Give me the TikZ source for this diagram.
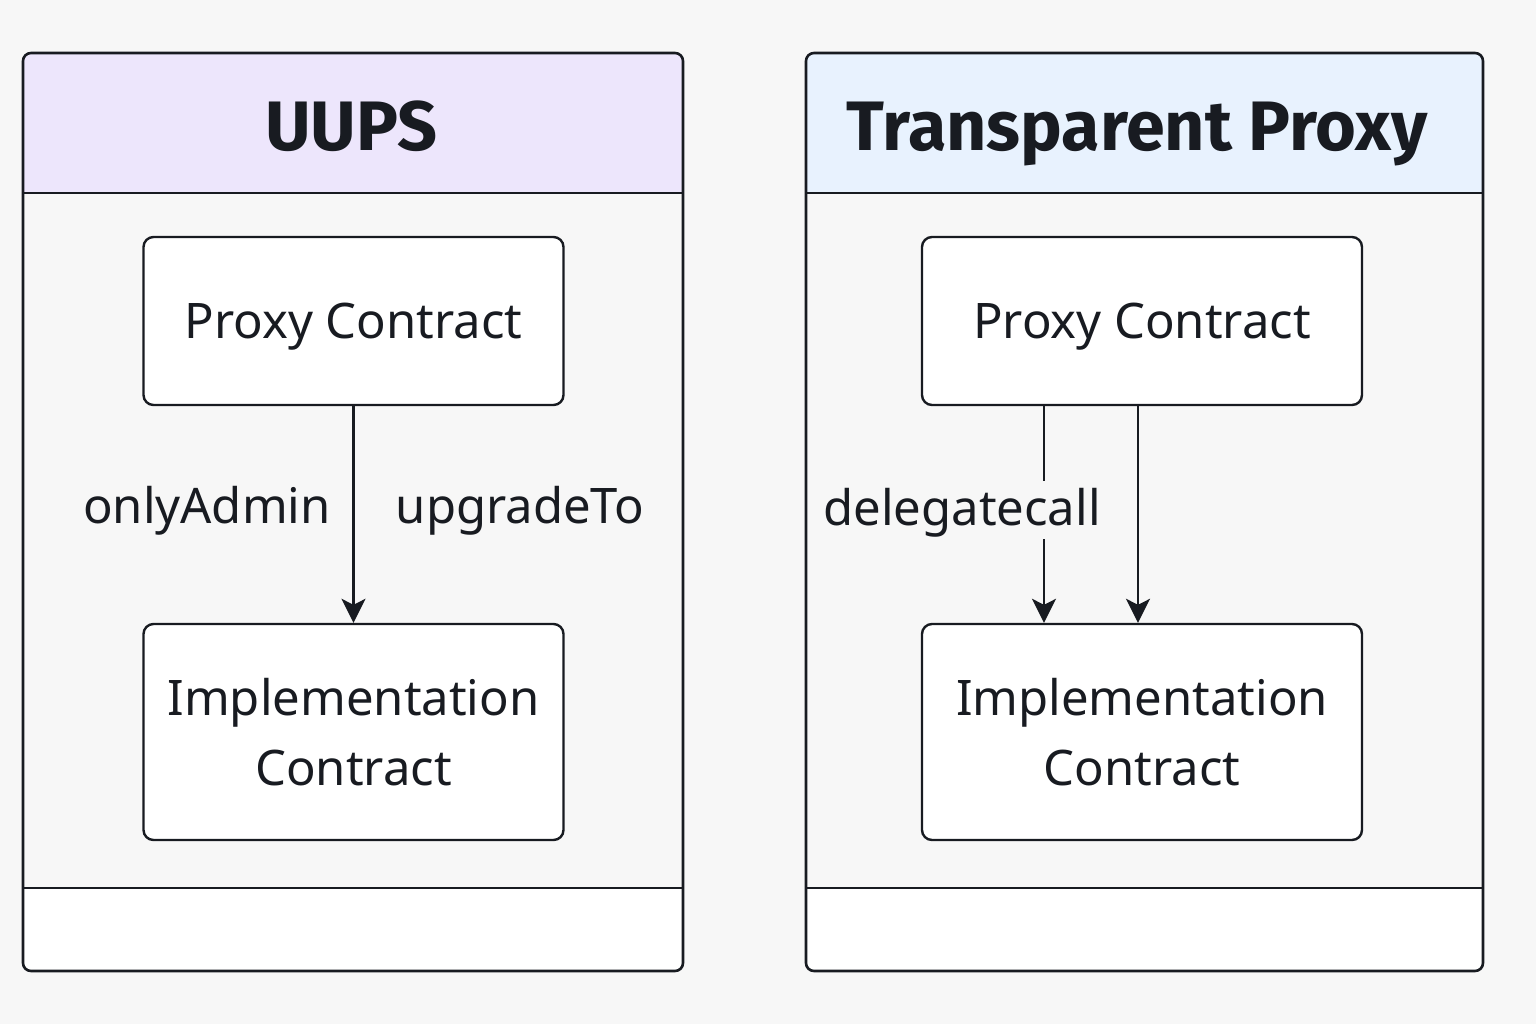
\documentclass[tikz,border=0pt]{standalone}
\usepackage{fontspec}
\setmainfont{Noto Sans}
\newfontfamily\headfont{Fira Sans}
\usetikzlibrary{arrows.meta,positioning}
\definecolor{ink}{RGB}{24,27,33}
\definecolor{paper}{RGB}{247,247,247}
\definecolor{lilac}{RGB}{237,230,252}
\definecolor{skyband}{RGB}{232,242,254}

\begin{document}
\begin{tikzpicture}[x=0.5pt,y=-0.5pt,
    frame/.style={draw=ink, line width=1.3pt, rounded corners=4pt},
    rule/.style={ink, line width=1.3pt},
    heading/.style={anchor=base, text=ink, font=\headfont\bfseries\fontsize{35}{40}\selectfont, inner sep=0pt},
    box/.style={draw=ink, fill=white, line width=1.2pt, rounded corners=5pt, align=center,
      text=ink, font=\fontsize{24.5}{35}\selectfont, minimum width=210pt},
    tag/.style={anchor=base, text=ink, font=\fontsize{24.5}{30}\selectfont, inner sep=2pt,
      text height=20pt, text depth=5pt},
    arr/.style={-{Stealth[length=12pt,width=12pt,inset=3pt]}, ink, line width=1.2pt}]
        \fill[paper] (0,0) rectangle (1536,1024);
        \useasboundingbox (0,0) rectangle (1536,1024);
        % UUPS panel
        \begin{scope}
          \clip[rounded corners=4pt] (23,53) rectangle (683,971);
          \fill[lilac] (23,53) rectangle (683,193);
          \fill[paper] (23,193) rectangle (683,888);
          \fill[white] (23,888) rectangle (683,971);
        \end{scope}
        \draw[frame] (23,53) rectangle (683,971);
        \draw[rule] (23,193) -- (683,193);
        \draw[rule] (23,888) -- (683,888);
        \node[heading] (utitle) at (351,150) {UUPS};
        \node[box, minimum height=84pt, text depth=0pt] (uproxy) at (353.5,321) {Proxy Contract};
        \node[box, minimum height=108pt] (uimpl) at (353.5,732) {Implementation\\Contract};
        \draw[arr] (uproxy) -- (uimpl);
        \node[tag] (uadmin) at (207,523) {onlyAdmin};
        \node[tag] (uupgrade) at (520,523) {upgradeTo};
        % Transparent panel
        \begin{scope}
          \clip[rounded corners=4pt] (806,53) rectangle (1483,971);
          \fill[skyband] (806,53) rectangle (1483,193);
          \fill[paper] (806,193) rectangle (1483,888);
          \fill[white] (806,888) rectangle (1483,971);
        \end{scope}
        \draw[frame] (806,53) rectangle (1483,971);
        \draw[rule] (806,193) -- (1483,193);
        \draw[rule] (806,888) -- (1483,888);
        \node[heading] (ttitle) at (1137,150) {Transparent Proxy};
        \node[box, minimum width=220pt, minimum height=84pt, text depth=0pt] (tproxy) at (1142,321) {Proxy Contract};
        \node[box, minimum width=220pt, minimum height=108pt] (timpl) at (1142,732) {Implementation\\Contract};
        \draw[arr] ([xshift=-49pt]tproxy.south) -- ([xshift=-49pt]timpl.north);
        \draw[arr] ([xshift=-2pt]tproxy.south) -- ([xshift=-2pt]timpl.north);
        \node[tag, fill=paper] (tdelegate) at (962,525) {delegatecall};
      \end{tikzpicture}
\end{document}
